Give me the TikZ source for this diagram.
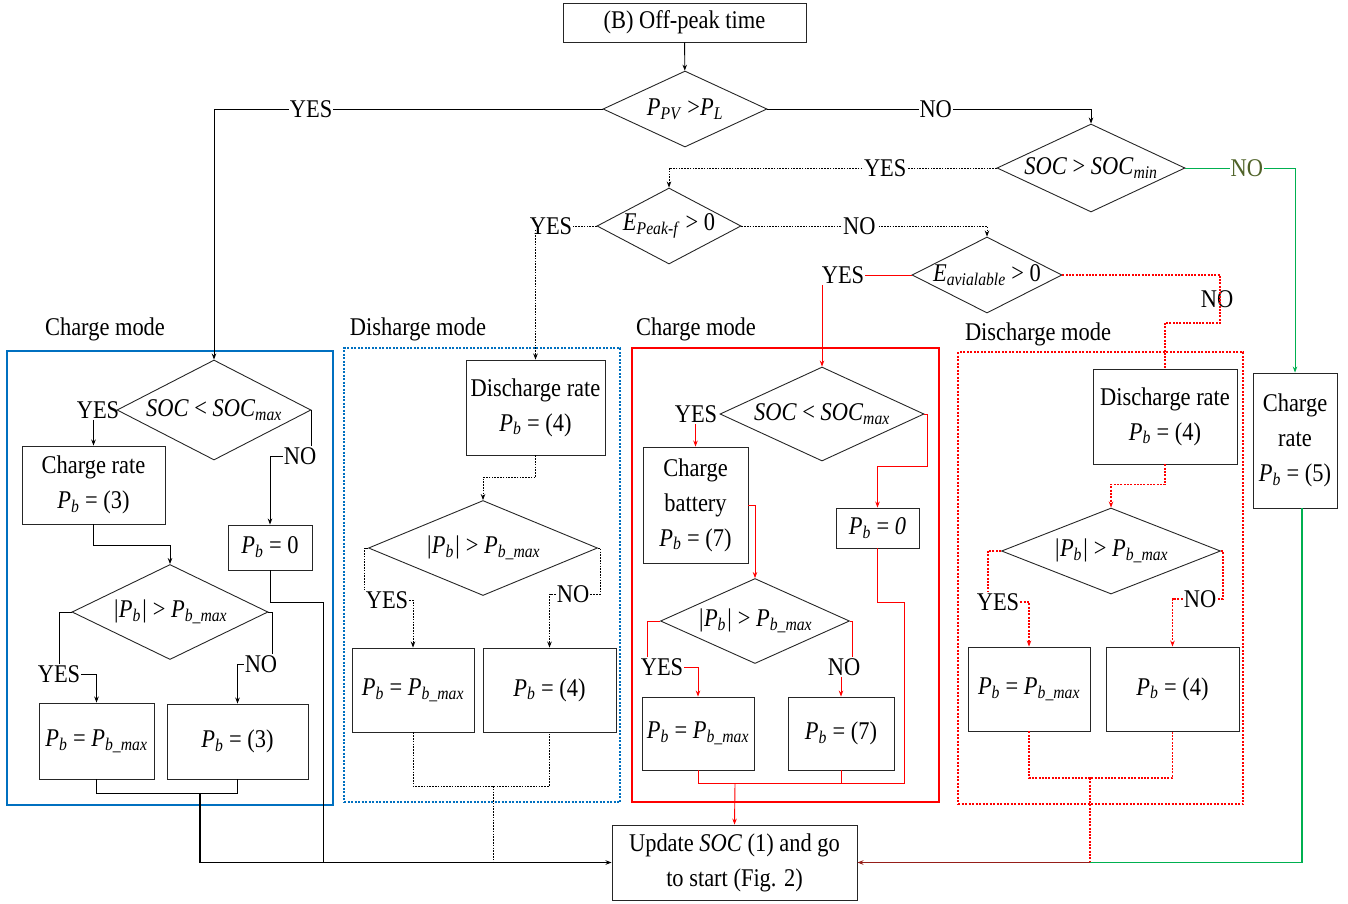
\documentclass[tikz,border=0pt]{standalone}
\usepackage{fontspec}
\setmainfont[FakeStretch=0.88]{Liberation Serif}
\usetikzlibrary{arrows.meta,shapes.geometric,calc}
\definecolor{modeblue}{RGB}{0,112,192}
\definecolor{modered}{RGB}{255,0,0}
\definecolor{modegreen}{RGB}{0,176,80}
\definecolor{nogreen}{RGB}{79,98,40}
\definecolor{backred}{RGB}{150,30,25}
\newcommand{\iv}[2]{\textit{#1}\textsubscript{\textit{#2}}}
\newcommand{\pbig}{\textit{|}\iv{P}{b}\textit{|} > \iv{P}{b\_max}}

\begin{document}
\begin{tikzpicture}[x=1pt, y=-1pt,
  font=\fontsize{25.5}{35}\selectfont,
  box/.style={rectangle, draw=black!85, line width=0.9pt, align=center, inner sep=1pt},
  dec/.style={diamond, draw=black!85, line width=0.9pt, inner sep=-3pt, align=center},
  frame/.style={rectangle, line width=1.3pt, inner sep=0pt},
  ln/.style={line width=0.9pt},
  arr/.style={-{Stealth[length=6pt,width=4.5pt]}},
  dots/.style={ln, dash pattern=on 1.6pt off 1.2pt},
  redln/.style={ln, draw=modered},
  reddots/.style={line width=1.1pt, dash pattern=on 2pt off 1.3pt, draw=modered},
  lbl/.style={fill=white, inner sep=1pt},
  tag/.style={inner sep=1pt, text=black}
]
\useasboundingbox (0,0) rectangle (1348,903);

% mode frames
\node[frame, draw=modeblue, minimum width=326, minimum height=454] (chgL) at (170,578) {};
\node[frame, draw=modeblue, dash pattern=on 2pt off 1.5pt, minimum width=276, minimum height=454] (disM) at (482,575) {};
\node[frame, draw=modered, minimum width=307, minimum height=454] (chgR) at (785.5,575) {};
\node[frame, draw=modered, dash pattern=on 2pt off 1.5pt, minimum width=285, minimum height=452] (disR) at (1100.5,578) {};
\node (chgLt) at (105,329) {Charge mode};
\node (disMt) at (418,329) {Disharge mode};
\node (chgRt) at (696,329) {Charge mode};
\node (disRt) at (1038,334) {Discharge mode};

% top decisions
\node[box, minimum width=243, minimum height=39] (start) at (684.5,22.5) {(B) Off-peak time};
\node[dec, aspect=2.16, minimum width=164, minimum height=76] (pvpl) at (685,109) {\iv{P}{PV} >\iv{P}{L}};
\node[dec, aspect=2.14, minimum width=188, minimum height=88] (socmin) at (1091,168) {\textit{SOC} > \iv{SOC}{min}};
\node[dec, aspect=1.89, minimum width=144, minimum height=76] (epeak) at (669,226) {\iv{E}{Peak-f} > 0};
\node[dec, aspect=1.97, minimum width=150, minimum height=76] (eavail) at (987,275) {\iv{E}{avialable} > 0};
\node[box, minimum width=84, minimum height=135] (crR) at (1295,440.5) {Charge\\rate\\\iv{P}{b} = (5)};
\node[box, minimum width=245, minimum height=75] (upd) at (734.5,862.5) {Update \textit{SOC} (1) and go\\to start (Fig. 2)};

% charge mode, left
\node[dec, aspect=1.94, minimum width=194, minimum height=100] (socL) at (214,410) {\textit{SOC} < \iv{SOC}{max}};
\node[box, minimum width=143, minimum height=78] (crL) at (93.5,485) {Charge rate\\\iv{P}{b} = (3)};
\node[box, minimum width=84, minimum height=45] (pbzL) at (270,547.5) {\iv{P}{b} = 0};
\node[dec, aspect=2.06, minimum width=196, minimum height=95] (dL2) at (170,612) {\pbig};
\node[box, minimum width=115, minimum height=76] (pbmL) at (96.5,741) {\iv{P}{b} = \iv{P}{b\_max}};
\node[box, minimum width=141, minimum height=75] (pb3L) at (237.5,741.5) {\iv{P}{b} = (3)};

% discharge mode, middle
\node[box, minimum width=139, minimum height=95] (dcM) at (535.5,407.5) {Discharge rate\\\iv{P}{b} = (4)};
\node[dec, aspect=2.41, minimum width=229, minimum height=95] (dM2) at (483,548) {\pbig};
\node[box, minimum width=122, minimum height=84] (pbmM) at (413,690) {\iv{P}{b} = \iv{P}{b\_max}};
\node[box, minimum width=133, minimum height=84] (pb4M) at (549.5,690) {\iv{P}{b} = (4)};

% charge mode, right
\node[dec, aspect=2.17, minimum width=204, minimum height=94] (dR1) at (822,414) {\textit{SOC} < \iv{SOC}{max}};
\node[box, minimum width=105, minimum height=116] (cbR) at (695.5,505) {Charge\\battery\\\iv{P}{b} = (7)};
\node[box, minimum width=83, minimum height=40] (pbzR) at (877.5,528) {\iv{P}{b} = \textit{0}};
\node[dec, aspect=2.22, minimum width=189, minimum height=85] (dR2) at (755,621) {\pbig};
\node[box, minimum width=112, minimum height=73] (pbmR) at (698,733.5) {\iv{P}{b} = \iv{P}{b\_max}};
\node[box, minimum width=106, minimum height=73] (pb7R) at (841,733.5) {\iv{P}{b} = (7)};

% discharge mode, right
\node[box, minimum width=144, minimum height=95] (dcRR) at (1165,416.5) {Discharge rate\\\iv{P}{b} = (4)};
\node[dec, aspect=2.55, minimum width=219, minimum height=86] (dRR2) at (1111,551) {\pbig};
\node[box, minimum width=122, minimum height=84] (pbmRR) at (1029,689) {\iv{P}{b} = \iv{P}{b\_max}};
\node[box, minimum width=133, minimum height=84] (pb4RR) at (1172.5,689) {\iv{P}{b} = (4)};

% branch labels
\node[tag] (yesE)  at (551,226) {YES};
\node[tag] (yesA)  at (843,275) {YES};
\node[tag] (noA)   at (1217,299) {NO};
\node[tag] (yesL1) at (98,410)  {YES};
\node[tag] (noL1)  at (300,456) {NO};
\node[tag] (yesL2) at (59,674)  {YES};
\node[tag] (noL2)  at (261,664) {NO};
\node[tag] (yesM2) at (387,600) {YES};
\node[tag] (noM2)  at (573,594) {NO};
\node[tag] (yesR1) at (696,414) {YES};
\node[tag] (yesR2) at (662,667) {YES};
\node[tag] (noR2)  at (844,667) {NO};
\node[tag] (yesRR2) at (998,602) {YES};
\node[tag] (noRR2) at (1200,599) {NO};

% top level
\draw[ln,arr] (start) -- (pvpl);
\draw[ln,arr] (pvpl.west) -| node[lbl, pos=0.375]{YES} (socL.north);
\draw[ln,arr] (pvpl.east) -| node[lbl, pos=0.26]{NO} (socmin.north);
\draw[dots,arr] (socmin.west) -| node[lbl, pos=0.17]{YES} (epeak.north);
\draw[ln,modegreen,arr] (socmin.east) -| node[lbl, pos=0.28, text=nogreen]{NO} (crR.north);
\draw[dots,arr] (epeak.east) -| node[lbl, pos=0.24]{NO} (eavail.north);
\draw[dots] (epeak.west) -- (yesE.east);
\draw[dots,arr] ([yshift=6]yesE.south -| dcM.north) -- (dcM.north);
\draw[redln] (eavail.west) -- (yesA.east);
\draw[redln,arr] (yesA.south -| dR1.north) -- (dR1.north);
\draw[reddots] (eavail.east) -- (eavail.east -| 1220,0) -- (1220,323) -| (dcRR.north);

% charge mode, left
\draw[ln,arr] (yesL1.south -| crL.north) -- (crL.north);
\draw[ln] (socL.east) -- (socL.east |- noL1.north);
\draw[ln,arr] (noL1.west) -| (pbzL.north);
\draw[ln,arr] (crL.south) -- ++(0,21) -| (dL2.north);
\draw[ln] (dL2.west) -| (yesL2.north);
\draw[ln,arr] (yesL2.east) -| (pbmL.north);
\draw[ln] (dL2.east) -| ([xshift=-6]noL2.north east);
\draw[ln,arr] (noL2.west) -| (pb3L.north);
\coordinate (jL) at (200,793);
\draw[ln] (pbmL.south) |- (jL) -| (pb3L.south);
\draw[ln] (pbzL.south) -- ++(0,32) -| (upd.west -| 323,0);
\draw[line width=1.8pt,arr] (jL) |- (upd.west);

% discharge mode, middle
\draw[dots,arr] (dcM.south) -- ++(0,22) -| (dM2.north);
\draw[dots] (dM2.west) -| (yesM2.north west);
\draw[dots,arr] (yesM2.east) -| (pbmM.north);
\draw[dots] (dM2.east) -- ++(2,0) |- (noM2.east);
\draw[dots,arr] (noM2.west) -| (pb4M.north);
\coordinate (jM) at (493,786);
\draw[dots] (pbmM.south) |- (jM) -| (pb4M.south);
\draw[dots] (jM) -- (jM |- upd.west);

% charge mode, right
\draw[redln,arr] (yesR1.south -| cbR.north) -- (cbR.north);
\draw[redln,arr] (dR1.east) -- ++(3,0) -- ++(0,52) -| (pbzR.north);
\draw[redln,arr] (cbR.east) -| (dR2.north);
\draw[redln] (dR2.west) -| ([xshift=-15]yesR2.north);
\draw[redln,arr] (yesR2.east) -| (pbmR.north);
\draw[redln] (dR2.east) -| ([xshift=8]noR2.north);
\draw[redln,arr] (noR2.south -| pb7R.north) -- (pb7R.north);
\coordinate (jR) at (735,783);
\draw[redln] (pbmR.south) |- (jR) -| (pb7R.south);
\draw[redln] (pbzR.south) |- ++(27,54) |- (pb7R.south |- jR);
\draw[redln,arr] (jR) -- (upd.north);

% discharge mode, right
\draw[reddots,arr] (dcRR.south) -- ++(0,20) -| (dRR2.north);
\draw[reddots] (dRR2.west) -| ([xshift=-10]yesRR2.north);
\draw[reddots,arr] (yesRR2.east) -| (pbmRR.north);
\draw[reddots] (dRR2.east) -- ++(2,0) |- (noRR2.east);
\draw[reddots,arr] (noRR2.west) -| (pb4RR.north);
\coordinate (jRR) at (1090,778);
\draw[reddots] (pbmRR.south) |- (jRR) -| (pb4RR.south);
\draw[reddots] (jRR) -- (jRR |- upd.east);
\draw[line width=1.6pt, modegreen] ([xshift=7]crR.south) |- (jRR |- upd.east);
\draw[line width=1.4pt, backred, arr] (jRR |- upd.east) -- (upd.east);
\end{tikzpicture}
\end{document}
